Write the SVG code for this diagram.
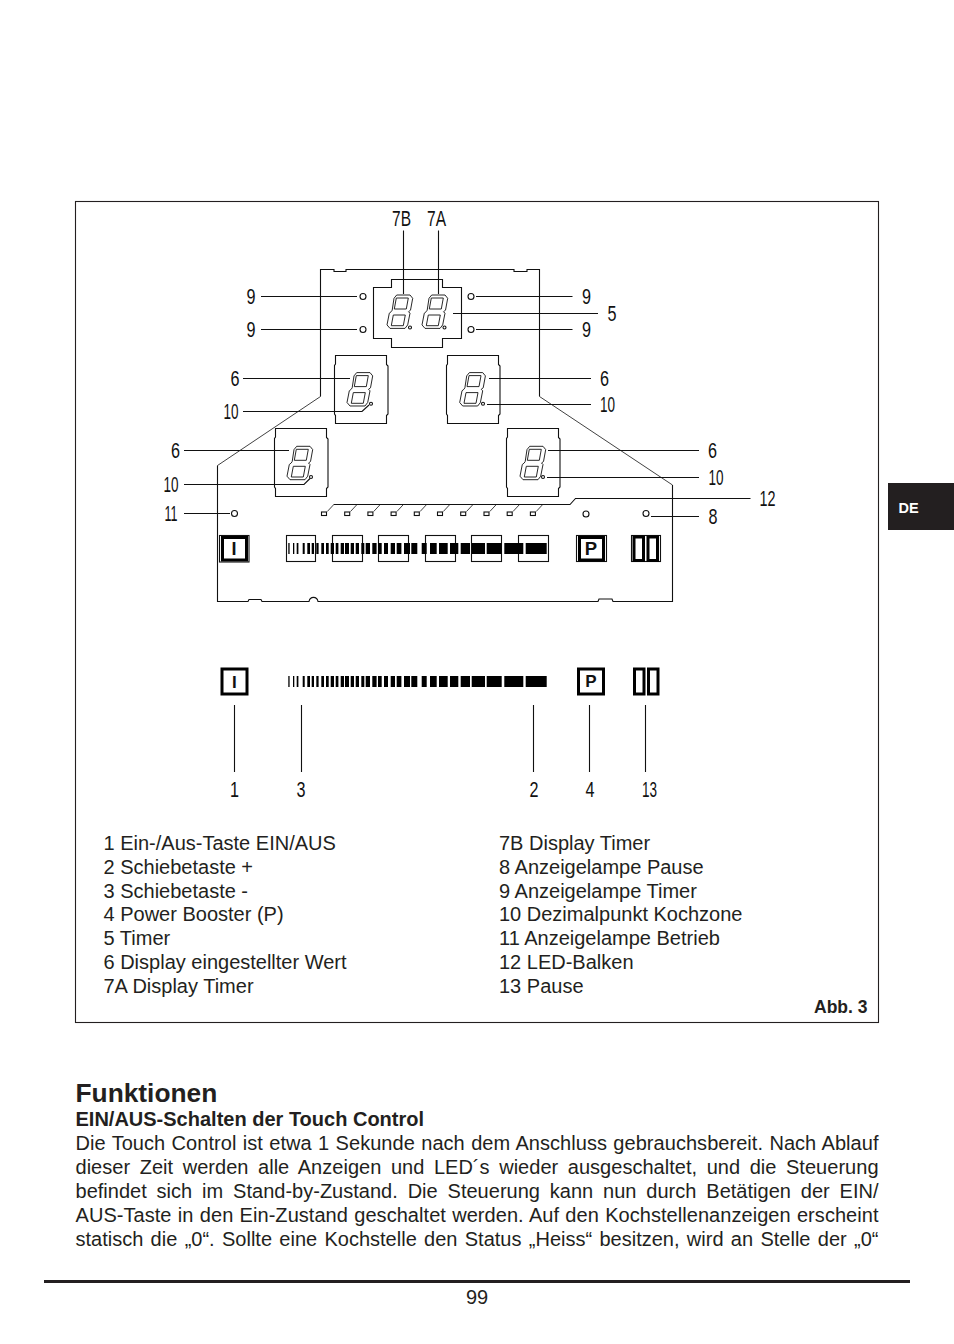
<svg xmlns="http://www.w3.org/2000/svg" width="954" height="1344" viewBox="0 0 954 1344">
<style>
.l{fill:none;stroke:#111;stroke-width:1.1}
.f{fill:none;stroke:#111;stroke-width:.8}
.d{fill:none;stroke:#111;stroke-width:.9}
.th{fill:none;stroke:#000;stroke-width:3}
.b{fill:#000}
text{font-family:"Liberation Sans",Arial,sans-serif;fill:#231f20}
.n{font-size:22.500px;text-anchor:middle;fill:#111}
.s{font-size:20px}
.h{font-size:20px;font-weight:700}
.k{font-weight:700;text-anchor:middle;fill:#111}
</style>
<defs>
<path id="tile" class="l" d="M0 0H51V9L52.500 10.500V58.500L51 60V68H0V60L-1 58.500V10L0 8.500Z"/>
<g id="digit" class="d">
<path d="M-6-13.400L-3.300-16.700H10L12.700-13.400L10.500-1.500L8.500 0L10 1.500L7.700 13.200L5 16.700H-10L-13 13.200L-10.700 1.500L-8.800 0L-7.800-1.500Z"/>
<path d="M-3.700-13.700H8.300L6.300-2.700H-5.700Z"/>
<path d="M-6.700 3.300H5.300L3.300 14H-8.700Z"/>
</g>
<g id="bars" class="b">
<rect x="288.300" width="1.300" height="11"/><rect x="293" width="1.300" height="11"/><rect x="296.700" width="1.700" height="11"/><rect x="302.700" width="2" height="11"/><rect x="307.300" width="2.700" height="11"/><rect x="311.700" width="2.300" height="11"/><rect x="316.300" width="2.300" height="11"/><rect x="321.300" width="2.700" height="11"/><rect x="326" width="2.700" height="11"/><rect x="330.700" width="3.300" height="11"/><rect x="335.700" width="2.700" height="11"/><rect x="340.700" width="3.300" height="11"/><rect x="345" width="4" height="11"/><rect x="350.700" width="3.300" height="11"/><rect x="355.700" width="3.300" height="11"/><rect x="361.300" width="3" height="11"/><rect x="365.700" width="4.300" height="11"/><rect x="372.300" width="4.300" height="11"/><rect x="378" width="3.700" height="11"/><rect x="384" width="4" height="11"/><rect x="390.700" width="4.300" height="11"/><rect x="396.700" width="4.700" height="11"/><rect x="404" width="6" height="11"/><rect x="411.300" width="6" height="11"/><rect x="421.700" width="5" height="11"/><rect x="430" width="6.700" height="11"/><rect x="439" width="8.700" height="11"/><rect x="450" width="8.300" height="11"/><rect x="460.700" width="9.300" height="11"/><rect x="471.700" width="13.300" height="11"/><rect x="486.700" width="15" height="11"/><rect x="504.300" width="19" height="11"/><rect x="525.700" width="21" height="11"/>
</g>
<g id="led"><rect class="l" x="0" y="0" width="5" height="3.500"/><path class="f" d="M5.800 -.5L12.800-8"/></g>
</defs>
<rect width="954" height="1344" fill="#fff"/>
<rect id="frame" x="75.500" y="201.500" width="803" height="821" fill="none" stroke="#231f20" stroke-width="1.100"/>
<g id="outline"><path class="l" d="M320.500 396.500V269.500H334V271.500H346V269.500H514V271.500H527V269.500H539.500V396.500M672.500 485V601.500H613L612 599H599L598 601.500H318C317 596 310 596 309 601.500H262L261 599.500H249L248 601.500H217.500V465.500"/><path class="f" d="M320.500 396.500L217.500 465.500M539.500 396.500L672.500 485"/></g>
<g id="connectors">
<path class="l" d="M403.500 230.500V294M438.500 230.500V294M261 296.500H357M261 329.500H357M476 296.500H572.500M476 329.500H572.500M453 313.500H598M243 378.500H350M243 411.500H362L369 405M489 378.500H591M487 404.500H591M184 450.500H289M184 484.500H304L310 478.500M548 450.500H699M547 477.500H699M184 513.500H230M651 516.500H699M334 504.500H570L575.500 498.500H750.500M234.500 705V772M301.500 705V772M533.500 705V772M589.500 705V772M645.500 705V772"/>
</g>
<g id="timer"><path class="l" d="M391.500 287.500V279.500H442.500V287.500H461.500V338.500H442.500V347.500H391.500V338.500H373.500V287.500Z"/><use href="#digit" x="400" y="311.700"/><use href="#digit" x="435" y="311.700"/><circle class="l" cx="410" cy="327.500" r="1.500"/><circle class="l" cx="444.500" cy="327.500" r="1.500"/></g>
<g id="timer-leds"><circle class="l" cx="363" cy="296.500" r="3"/><circle class="l" cx="363" cy="329.500" r="3"/><circle class="l" cx="471" cy="296.500" r="3"/><circle class="l" cx="471" cy="329.500" r="3"/></g>
<g id="zone1"><use href="#tile" x="335.500" y="355.500"/><use href="#digit" x="360" y="389.300"/><circle class="l" cx="371" cy="403.700" r="1.500"/></g>
<g id="zone2"><use href="#tile" x="447.500" y="355.500"/><use href="#digit" x="472.700" y="389.300"/><circle class="l" cx="483" cy="403.700" r="1.500"/></g>
<g id="zone3"><use href="#tile" x="275.500" y="428.500"/><use href="#digit" x="300" y="463"/><circle class="l" cx="311" cy="477" r="1.500"/></g>
<g id="zone4"><use href="#tile" x="507.500" y="428.500"/><use href="#digit" x="533" y="463"/><circle class="l" cx="543" cy="477" r="1.500"/></g>
<g id="led-bar">
<use href="#led" x="321.500" y="512"/><use href="#led" x="344.700" y="512"/><use href="#led" x="367.900" y="512"/><use href="#led" x="391.100" y="512"/><use href="#led" x="414.300" y="512"/><use href="#led" x="437.500" y="512"/><use href="#led" x="460.700" y="512"/><use href="#led" x="484" y="512"/><use href="#led" x="507.200" y="512"/><use href="#led" x="530.400" y="512"/>
</g>
<g id="lamps"><circle class="l" cx="234.500" cy="513.500" r="3"/><circle class="l" cx="586" cy="514" r="3"/><circle class="l" cx="646" cy="513.500" r="3"/></g>
<g id="key-on"><rect class="l" x="219.500" y="535.500" width="29.500" height="26.500"/><rect class="th" x="222.500" y="537.500" width="24" height="22.500"/><text class="k" x="234" y="555" font-size="18">I</text></g>
<g id="slider">
<rect class="l" x="286.500" y="535.500" width="29" height="26"/><rect class="l" x="332.500" y="535.500" width="30" height="26"/><rect class="l" x="378.500" y="535.500" width="30" height="26"/><rect class="l" x="425.500" y="535.500" width="30" height="26"/><rect class="l" x="471.500" y="535.500" width="30" height="26"/><rect class="l" x="518.500" y="535.500" width="30" height="26"/>
<use href="#bars" y="543"/>
</g>
<g id="key-p"><rect class="l" x="576.500" y="535.500" width="30" height="26"/><rect class="th" x="579.500" y="537.500" width="24" height="22.500"/><text class="k" x="591" y="555" font-size="18.500">P</text></g>
<g id="key-pause"><rect class="l" x="631.500" y="535.500" width="29" height="26"/><rect class="th" x="634" y="537" width="9.500" height="23.500"/><rect class="th" x="648" y="537" width="9.500" height="23.500"/></g>
<g id="sym-on"><rect class="th" x="222" y="669" width="25" height="25"/><text class="k" x="234.300" y="687.500" font-size="17">I</text></g>
<g id="sym-slider"><use href="#bars" y="676"/></g>
<g id="sym-p"><rect class="th" x="578.500" y="669" width="25" height="25"/><text class="k" x="591" y="687" font-size="17">P</text></g>
<g id="sym-pause"><rect class="th" x="634.500" y="669" width="9.500" height="25"/><rect class="th" x="648.500" y="669" width="9.500" height="25"/></g>
<g id="labels">
<text class="n" x="401.500" y="226" textLength="19" lengthAdjust="spacingAndGlyphs">7B</text>
<text class="n" x="436.500" y="226" textLength="19" lengthAdjust="spacingAndGlyphs">7A</text>
<text class="n" x="251" y="304" textLength="9" lengthAdjust="spacingAndGlyphs">9</text>
<text class="n" x="251" y="337" textLength="9" lengthAdjust="spacingAndGlyphs">9</text>
<text class="n" x="586.500" y="304" textLength="9" lengthAdjust="spacingAndGlyphs">9</text>
<text class="n" x="586.500" y="337" textLength="9" lengthAdjust="spacingAndGlyphs">9</text>
<text class="n" x="612" y="321" textLength="9" lengthAdjust="spacingAndGlyphs">5</text>
<text class="n" x="235" y="385.500" textLength="9" lengthAdjust="spacingAndGlyphs">6</text>
<text class="n" x="231" y="419" textLength="15" lengthAdjust="spacingAndGlyphs">10</text>
<text class="n" x="604.500" y="385.500" textLength="9" lengthAdjust="spacingAndGlyphs">6</text>
<text class="n" x="607.500" y="412" textLength="15" lengthAdjust="spacingAndGlyphs">10</text>
<text class="n" x="175.500" y="458" textLength="9" lengthAdjust="spacingAndGlyphs">6</text>
<text class="n" x="171" y="492" textLength="15" lengthAdjust="spacingAndGlyphs">10</text>
<text class="n" x="171" y="521" textLength="13" lengthAdjust="spacingAndGlyphs">11</text>
<text class="n" x="712.500" y="458" textLength="9" lengthAdjust="spacingAndGlyphs">6</text>
<text class="n" x="716" y="485" textLength="15" lengthAdjust="spacingAndGlyphs">10</text>
<text class="n" x="767.500" y="506" textLength="16" lengthAdjust="spacingAndGlyphs">12</text>
<text class="n" x="713" y="524" textLength="9" lengthAdjust="spacingAndGlyphs">8</text>
<text class="n" x="234.500" y="797" textLength="9" lengthAdjust="spacingAndGlyphs">1</text>
<text class="n" x="301" y="797" textLength="9" lengthAdjust="spacingAndGlyphs">3</text>
<text class="n" x="534" y="797" textLength="9" lengthAdjust="spacingAndGlyphs">2</text>
<text class="n" x="590" y="797" textLength="9" lengthAdjust="spacingAndGlyphs">4</text>
<text class="n" x="649.500" y="797" textLength="15" lengthAdjust="spacingAndGlyphs">13</text>
</g>
<g id="legend">
<text class="s" x="103.500" y="850">1 Ein-/Aus-Taste EIN/AUS</text>
<text class="s" x="103.500" y="874">2 Schiebetaste +</text>
<text class="s" x="103.500" y="898">3 Schiebetaste -</text>
<text class="s" x="103.500" y="921">4 Power Booster (P)</text>
<text class="s" x="103.500" y="945">5 Timer</text>
<text class="s" x="103.500" y="969">6 Display eingestellter Wert</text>
<text class="s" x="103.500" y="993">7A Display Timer</text>
<text class="s" x="499" y="850">7B Display Timer</text>
<text class="s" x="499" y="874">8 Anzeigelampe Pause</text>
<text class="s" x="499" y="898">9 Anzeigelampe Timer</text>
<text class="s" x="499" y="921">10 Dezimalpunkt Kochzone</text>
<text class="s" x="499" y="945">11 Anzeigelampe Betrieb</text>
<text class="s" x="499" y="969">12 LED-Balken</text>
<text class="s" x="499" y="993">13 Pause</text>
<text x="814" y="1013" font-size="17.500" font-weight="700">Abb. 3</text>
</g>
<g id="body">
<text x="75.500" y="1102" font-size="26.300" font-weight="700">Funktionen</text>
<text class="h" x="75.500" y="1126">EIN/AUS-Schalten der Touch Control</text>
<text class="s" x="75.500" y="1150" word-spacing=".77" textLength="803">Die Touch Control ist etwa 1 Sekunde nach dem Anschluss gebrauchsbereit. Nach Ablauf</text>
<text class="s" x="75.500" y="1174" word-spacing="3.99" textLength="803">dieser Zeit werden alle Anzeigen und LED´s wieder ausgeschaltet, und die Steuerung</text>
<text class="s" x="75.500" y="1198" word-spacing="4.29" textLength="803">befindet sich im Stand-by-Zustand. Die Steuerung kann nun durch Betätigen der EIN/</text>
<text class="s" x="75.500" y="1222" word-spacing=".69" textLength="803">AUS-Taste in den Ein-Zustand geschaltet werden. Auf den Kochstellenanzeigen erscheint</text>
<text class="s" x="75.500" y="1246" word-spacing="1.78" textLength="803">statisch die „0“. Sollte eine Kochstelle den Status „Heiss“ besitzen, wird an Stelle der „0“</text>
</g>
<g id="footer"><rect x="44" y="1280" width="866" height="3" fill="#231f20"/><text x="477" y="1304" font-size="20" text-anchor="middle">99</text></g>
<g id="tab"><rect x="888" y="483" width="66" height="47" fill="#231f20"/><text x="908.500" y="513" font-size="14.500" font-weight="700" text-anchor="middle" style="fill:#fff">DE</text></g>
</svg>
